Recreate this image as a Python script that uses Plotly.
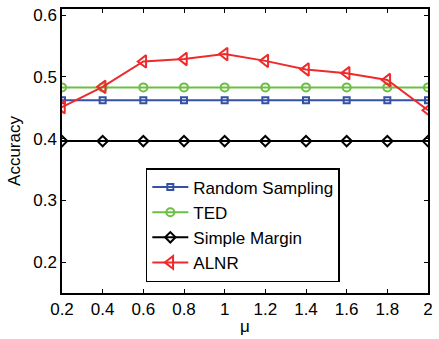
import plotly.graph_objects as go

mu = [0.2, 0.4, 0.6, 0.8, 1.0, 1.2, 1.4, 1.6, 1.8, 2.0]
random_sampling = [0.462] * 10
ted = [0.483] * 10
simple_margin = [0.396] * 10
alnr = [0.451, 0.484, 0.525, 0.529, 0.537, 0.526, 0.512, 0.506, 0.495, 0.446]

x_ticks = [0.2, 0.4, 0.6, 0.8, 1.0, 1.2, 1.4, 1.6, 1.8, 2.0]
x_tick_text = ["0.2", "0.4", "0.6", "0.8", "1", "1.2", "1.4", "1.6", "1.8", "2"]
y_ticks = [0.2, 0.3, 0.4, 0.5, 0.6]

series = [
    ("Random Sampling", random_sampling, "#3551A4", "square-open", 6),
    ("TED", ted, "#6CBE45", "circle-open", 8),
    ("Simple Margin", simple_margin, "#000000", "diamond-open", 8),
    ("ALNR", alnr, "#EE2B2C", "triangle-left-open", 11),
]

fig = go.Figure()
for name, vals, color, sym, size in series:
    fig.add_trace(go.Scatter(
        x=mu, y=vals, name=name, mode="lines+markers",
        line=dict(color=color, width=2),
        marker=dict(symbol=sym, size=size, color=color, line=dict(color=color, width=2)),
    ))

axis_common = dict(
    showline=True, linecolor="black", linewidth=1.5, mirror="ticks",
    ticks="inside", ticklen=4, tickcolor="black", showgrid=False, zeroline=False,
    tickfont=dict(family="Liberation Sans, Arial", size=17, color="black"),
)

fig.update_layout(
    width=439, height=339,
    margin=dict(l=62, r=6, t=7, b=46),
    paper_bgcolor="white", plot_bgcolor="white",
    font=dict(family="Liberation Sans, Arial", size=17, color="black"),
    xaxis=dict(range=[0.2, 2.0], tickvals=x_ticks, ticktext=x_tick_text,
               title=dict(text="μ", standoff=2, font=dict(size=17)), **axis_common),
    yaxis=dict(range=[0.15, 0.61], tickvals=y_ticks, tickformat=".1f",
               title=dict(text="Accuracy", standoff=8, font=dict(size=17)), **axis_common),
    legend=dict(x=0.229, y=0.44, xanchor="left", yanchor="top",
                bordercolor="black", borderwidth=1.5, bgcolor="white",
                font=dict(size=17), tracegroupgap=0, itemwidth=36),
    showlegend=True,
)

fig.write_html("out.html", config={"displayModeBar": False},
               post_script="document.body.style.margin='0';")
